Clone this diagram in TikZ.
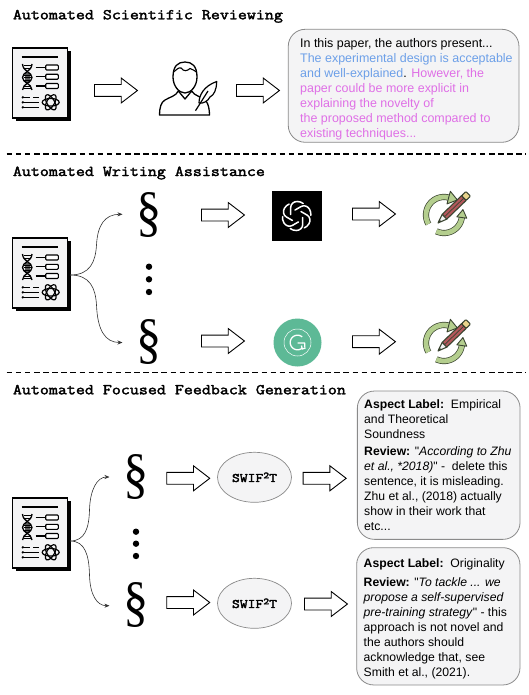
\documentclass[tikz,border=0pt]{standalone}
\usepackage{fontspec}
\usetikzlibrary{shapes.geometric,shapes.arrows,arrows.meta}
\newfontfamily\bodyfont{Liberation Sans}
\newfontfamily\secfont{Liberation Serif}
\newfontfamily\headfont[FakeBold=2.2]{Latin Modern Mono}
\definecolor{boxfill}{HTML}{F4F4F5}
\definecolor{boxline}{HTML}{8A8A8A}
\definecolor{blueT}{HTML}{6C9FE8}
\definecolor{pinkT}{HTML}{DF6FE6}
\definecolor{ringG}{HTML}{B4CE8E}
\definecolor{ringD}{HTML}{3A4430}
\definecolor{pencilR}{HTML}{B4585C}
\definecolor{pencilE}{HTML}{E9D48C}
\definecolor{gramG}{HTML}{5DB996}
\newcommand{\swiftname}{\scalebox{1.17}[1]{SWIF\raisebox{3.6pt}{\fontsize{9.5}{10}\selectfont 2}T}}
\tikzset{
  x=1pt,y=-1pt,
  blockarrow/.style={draw=black,line width=0.9pt,fill=white,shape=single arrow,anchor=tail,
    minimum height=43pt,minimum width=24.5pt,inner xsep=0pt,inner ysep=5.5pt,
    single arrow head extend=6.5pt,single arrow tip angle=75,shape border rotate=0},
  heading/.style={anchor=base west,inner sep=0pt,font=\headfont\fontsize{15}{17}\selectfont},
  bubble/.style={draw=boxline,line width=0.8pt,fill=boxfill,rounded corners=17pt,inner sep=0pt},
  bubbletext/.style={anchor=north west,inner sep=0pt,align=left,font=\bodyfont\fontsize{12.2}{15}\selectfont},
  swift/.style={draw=boxline,line width=0.7pt,fill=boxfill,shape=ellipse,inner sep=0pt,
    minimum width=74pt,minimum height=50pt,font=\headfont\fontsize{13}{15}\selectfont},
  sectionmark/.style={inner sep=0pt,font=\secfont\fontsize{56}{58}\selectfont},
  docslot/.style={inner sep=0pt,minimum width=60pt,minimum height=70pt},
  slot/.style={inner sep=0pt,minimum width=50pt,minimum height=50pt},
  curved/.style={draw=black!80,line width=0.6pt,-{Stealth[length=5pt,width=4pt]}},
  sep/.style={draw=black,line width=1.5pt,dash pattern=on 5.5pt off 3.6pt},
  dotmark/.style={fill=black,circle,inner sep=0pt,minimum size=6.4pt},
  docicon/.pic={
    \fill[black] (-24.5,-32) rectangle (31,38);
    \draw[black,line width=1.1pt,fill=boxfill] (-27.5,-35) rectangle (27.5,35);
    \draw[line width=2.2pt] (-18.3,-25.7) -- (18.3,-25.7);
    \foreach \yy in {-15.5,-6.2,3}{
      \draw[line width=1.2pt] (-4.3,\yy) -- (5.5,\yy);
      \draw[line width=1.1pt,rounded corners=1pt,fill=white] (5.7,\yy-2.5) rectangle (18.3,\yy+2.5);
    }
    \fill[black!65] (-15.5,-10) rectangle (-10,0);
    \draw[line width=1.3pt] (-17.5,-19) .. controls (-17,-11) and (-8,-11) .. (-8,-5.5) .. controls (-8,0) and (-17,0) .. (-17.5,7);
    \draw[line width=1.3pt] (-8,-19) .. controls (-8.5,-11) and (-17.5,-11) .. (-17.5,-5.5) .. controls (-17.5,0) and (-8.5,0) .. (-8,7);
    \foreach \yy in {-17.5,-14.5,-8,-5.5,-3,3,5.5}{\draw[line width=0.9pt] (-16.5,\yy) -- (-9,\yy);}
    \draw[line width=1.2pt] (-17.7,14.3) -- (-10,14.3) (-7,14.3) -- (-1,14.3);
    \draw[line width=1.2pt] (-17.7,19.3) -- (-1,19.3);
    \draw[line width=1.2pt] (-17.7,24.3) -- (-1,24.3);
    \foreach \yy in {14.3,19.3,24.3}{\fill (-17.2,\yy) circle[radius=1.3];}
    \begin{scope}[shift={(10.7,19.3)}]
      \foreach \aa in {0,60,120}{\draw[line width=1.2pt,rotate=\aa] (0,0) ellipse[x radius=8.5,y radius=3.8];}
    \end{scope}
  },
  pencilicon/.pic={
    \draw[ringD,line width=6.2pt] plot[domain=150:285,samples=30] (\x:18);
    \draw[ringD,line width=6.2pt] plot[domain=115:8,samples=30] (\x:18);
    \draw[ringG,line width=4.8pt] plot[domain=150:285,samples=30] (\x:18);
    \draw[ringG,line width=4.8pt] plot[domain=115:8,samples=30] (\x:18);
    \begin{scope}[rotate=-285]
      \draw[ringD,fill=ringG,line width=0.9pt,line join=round] (11.5,0) -- (24.5,0) -- (18,9) -- cycle;
    \end{scope}
    \begin{scope}[rotate=-8]
      \draw[ringD,fill=ringG,line width=0.9pt,line join=round] (13,0) -- (23,0) -- (18,-8) -- cycle;
    \end{scope}
    \begin{scope}[shift={(-6,8)},rotate=44]
      \draw[ringD,fill=pencilR,line width=1.1pt,line join=round] (9,-3.3) rectangle (36,3.3);
      \draw[ringD,line width=0.7pt] (9,0) -- (36,0);
      \draw[ringD,fill=pencilE,line width=1.1pt,line join=round,rounded corners=1pt] (36,-3.3) -- (42,-3.3) -- (42,3.3) -- (36,3.3) -- cycle;
      \draw[ringD,fill=boxfill,line width=1.1pt,line join=round] (9,-3.3) -- (0,0) -- (9,3.3) -- cycle;
      \fill[ringD] (0,0) -- (3.5,-1.3) -- (3.5,1.3) -- cycle;
    \end{scope}
  }
}
\begin{document}
\begin{tikzpicture}
\useasboundingbox (0,0) rectangle (529,695);
\fill[white] (0,0) rectangle (529,695);
% headings
\node[heading] (h1) at (12.7,19.3) {\scalebox{1.165}[1]{Automated Scientific Reviewing}};
\node[heading] (h2) at (12.7,176) {\scalebox{1.165}[1]{Automated Writing Assistance}};
\node[heading] (h3) at (12.7,394.3) {\scalebox{1.165}[1]{Automated Focused Feedback Generation}};
% separators
\coordinate (s1a) at (6.7,154); \coordinate (s1b) at (526,154);
\coordinate (s2a) at (6.7,372.3); \coordinate (s2b) at (526,372.3);
\draw[sep] (s1a) -- (s1b);
\draw[sep] (s2a) -- (s2b);
% documents
\node[docslot] (doc1) at (40,83) {};
\node[docslot] (doc2) at (40,273) {};
\node[docslot] (doc3) at (40,533) {};
\pic at (doc1) {docicon};
\pic at (doc2) {docicon};
\pic at (doc3) {docicon};
% reviewer
\node[inner sep=0pt,minimum width=60pt,minimum height=55pt] (reviewer) at (187,89) {};
\draw[line width=1.3pt,line join=round] (173,77) .. controls (173,66) and (178,62) .. (185,62) .. controls (192,62) and (197,66) .. (197,77) .. controls (197,86) and (191,93) .. (185,93) .. controls (179,93) and (173,86) .. (173,77) -- cycle;
\draw[line width=1.1pt] (173.5,72) .. controls (176,70) and (179,67) .. (181,68) .. controls (184,72) and (187,71) .. (190,68.5) .. controls (192,69) and (195,71) .. (196.5,72);
\draw[line width=1.3pt,line join=round] (159.5,115) .. controls (159.5,108) and (161,102) .. (165,100) .. controls (170,97) and (176,96) .. (178.3,91) -- (185,99) -- (191.7,91) .. controls (194,96) and (203,97) .. (206,101) .. controls (208.5,104) and (209.5,110) .. (209.5,115) -- cycle;
\draw[line width=1.2pt,fill=white,line join=round] (199,103) .. controls (199,95) and (204,86) .. (216.7,81.5) .. controls (216.5,90) and (214,95) .. (210,97) .. controls (208,101) and (203,104) .. (199,103) -- cycle;
\draw[line width=1.2pt] (195.5,110.7) -- (208,91);
% block arrows
\node[blockarrow] (a1) at (94,90.5) {};
\node[blockarrow] (a2) at (236,90.5) {};
\node[blockarrow] (a3) at (201,215) {};
\node[blockarrow] (a4) at (352,214) {};
\node[blockarrow] (a5) at (201,341) {};
\node[blockarrow] (a6) at (352,341.7) {};
\node[blockarrow] (a7) at (166.3,478.3) {};
\node[blockarrow] (a8) at (302.7,478.3) {};
\node[blockarrow] (a9) at (166.3,602.5) {};
\node[blockarrow] (a10) at (304,604) {};
% box 1
\node[bubble,minimum width=230.7pt,minimum height=113pt] (box1) at (403.6,85.8) {};
\node[bubbletext,font=\bodyfont\fontsize{12.45}{14.9}\selectfont] (box1t) at (300,38.5) {In this paper, the authors present...\\
\textcolor{blueT}{The experimental design is acceptable}\\
\textcolor{blueT}{and well-explained}. \textcolor{pinkT}{However, the}\\
\textcolor{pinkT}{paper could be more explicit in}\\
\textcolor{pinkT}{explaining the novelty of}\\
\textcolor{pinkT}{the proposed method compared to}\\
\textcolor{pinkT}{existing techniques...}};
% section marks
\node[sectionmark] (m1) at (149,214.7) {\scalebox{0.9}[1]{\S}};
\node[sectionmark] (m2) at (149,342.5) {\scalebox{0.9}[1]{\S}};
\node[sectionmark] (m3) at (136,476.7) {\scalebox{0.9}[1]{\S}};
\node[sectionmark] (m4) at (136,605) {\scalebox{0.9}[1]{\S}};
\node[dotmark] (d1) at (149,266.7) {};
\node[dotmark] (d2) at (149,279.3) {};
\node[dotmark] (d3) at (149,292) {};
\node[dotmark] (d4) at (136,531.7) {};
\node[dotmark] (d5) at (136,543.7) {};
\node[dotmark] (d6) at (136,556) {};
% connectors
\coordinate (e1) at (122.5,214.3);
\coordinate (e2) at (122.5,342.5);
\coordinate (e3) at (109.5,477);
\coordinate (e4) at (109.5,605.7);
\draw[curved] ([yshift=-2pt]doc2.east) .. controls (90,275) and (95.5,262) .. (96.5,245) .. controls (97.5,225) and (105,214.3) .. (e1);
\draw[curved] ([yshift=-2pt]doc2.east) .. controls (90,275) and (95.5,288) .. (96.5,305) .. controls (97.5,330) and (105,342.5) .. (e2);
\draw[curved] ([yshift=-8pt]doc3.east) .. controls (85,541) and (89,528) .. (89.5,510) .. controls (90,490) and (97,477) .. (e3);
\draw[curved] ([yshift=-8pt]doc3.east) .. controls (85,541) and (89,555) .. (89.5,575) .. controls (90,595) and (97,605.7) .. (e4);
% gpt
\node[slot,fill=black] (gpt) at (296.7,216) {};
\begin{scope}[shift={(gpt.center)}]
\foreach \aa in {0,60,...,300}{
  \begin{scope}[rotate=\aa]
  \draw[white,line width=1.5pt,line cap=round] (-6,-1.5) -- (-6,-8.5) .. controls (-6,-12) and (-3,-14.5) .. (0.5,-14.5) .. controls (3,-14.5) and (5,-13.7) .. (6.5,-12.5);
  \end{scope}
}
\end{scope}
% grammarly
\node[circle,fill=gramG,inner sep=0pt,minimum size=48pt] (gram) at (297.5,342.5) {};
\begin{scope}[shift={(gram.center)}]
\draw[white,line width=0.5pt] (0,0) circle[radius=13.5];
\draw[white,line width=1.3pt] plot[domain=-50:-310,samples=30] (\x:7.3);
\draw[white,line width=1.3pt,line join=round] (0,0.5) -- (7.3,0.5) -- (7.3,4.5) (4,3) -- (4.7,6.5) -- (8,5.5);
\end{scope}
% pencils
\node[inner sep=0pt,minimum size=50pt] (p1) at (444,215) {};
\node[inner sep=0pt,minimum size=50pt] (p2) at (444,343) {};
\pic at (p1) {pencilicon};
\pic at (p2) {pencilicon};
% swift
\node[swift] (sw1) at (254.5,477.3) {\swiftname};
\node[swift] (sw2) at (254.5,603.3) {\swiftname};
% box 2
\node[bubble,minimum width=162.7pt,minimum height=148.3pt] (box2) at (438.7,465.2) {};
\node[bubbletext] (box2t) at (364,399.5) {\textbf{Aspect Label:}\ \ Empirical\\
and Theoretical\\
Soundness\\[2.2pt]
\textbf{Review:} "\textit{According to Zhu}\\
\textit{et al., *2018)}" -\ \ delete this\\
sentence, it is misleading.\\
Zhu et al., (2018) actually\\
show in their work that\\
etc...};
% box 3
\node[bubble,minimum width=163.3pt,minimum height=137.3pt] (box3) at (438.3,616.3) {};
\node[bubbletext] (box3t) at (363.5,558) {\textbf{Aspect Label:}\ \ Originality\\[4pt]
\textbf{Review:} "\textit{To tackle ... we}\\
\textit{propose a self-supervised}\\
\textit{pre-training strategy}" - this\\
approach is not novel and\\
the authors should\\
acknowledge that, see\\
Smith et al., (2021).};
\end{tikzpicture}
\end{document}
